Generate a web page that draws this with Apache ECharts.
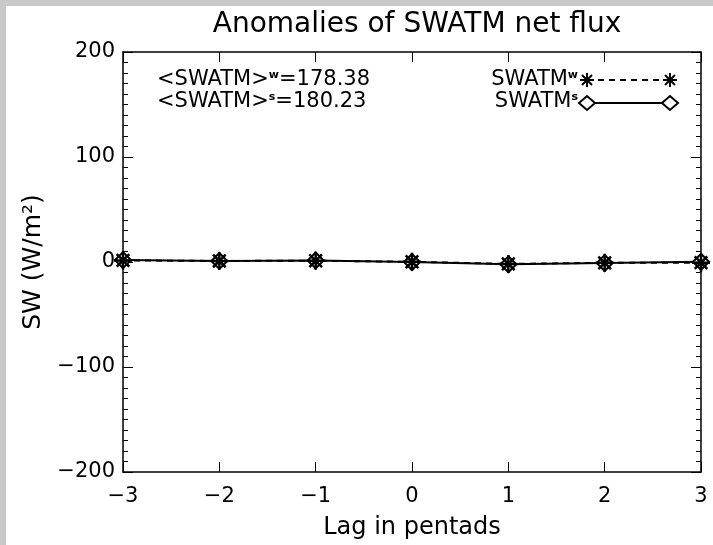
<!DOCTYPE html>
<html lang="en" style="height: 100%">
    <head>
        <meta charset="utf-8" />
    </head>
    <body style="height: 100%; margin: 0">
        <div id="container" style="width: 713px; height: 545px"></div>

        <script
            type="text/javascript"
            src="https://fastly.jsdelivr.net/npm/echarts@6.0.0/dist/echarts.min.js"
        ></script>

        <script type="text/javascript">
            // lag (pentads) and net flux anomalies, winter/summer composites
            var lags = [-3, -2, -1, 0, 1, 2, 3];
            var swatmW = [1.5, 1.0, 1.2, 0.2, -1.8, -0.8, -0.6];
            var swatmS = [1.8, 1.0, 1.5, 0.0, -2.2, -1.0, 0.2];
            var yTicks = [-200, -100, 0, 100, 200];
            var meanW = '178.38';
            var meanS = '180.23';

            var FONT = 'DejaVu Sans';
            var dom = document.getElementById('container');
            var myChart = echarts.init(dom, null, { renderer: 'canvas' });

            function minus(v) {
                return v < 0 ? '\u2212' + Math.abs(v) : String(v);
            }

            function pairs(ys) {
                return lags.map(function (x, i) {
                    return [x, ys[i]];
                });
            }

            // asterisk marker: a plus and a cross
            var starPath =
                'path://M10 0L10 20M0 10L20 10M3 3L17 17M3 17L17 3';
            var markStyle = { color: 'transparent', borderColor: '#000', borderWidth: 2.5 };

            // legend pieces drawn by hand: text, two end markers and a line
            function starAt(cx, cy) {
                var r = 7, d = 5;
                return [
                    [0, -r, 0, r], [-r, 0, r, 0], [-d, -d, d, d], [-d, d, d, -d]
                ].map(function (s) {
                    return {
                        type: 'line',
                        shape: { x1: cx + s[0], y1: cy + s[1], x2: cx + s[2], y2: cy + s[3] },
                        style: { stroke: '#000', lineWidth: 2 }
                    };
                });
            }
            function diamondAt(cx, cy) {
                return {
                    type: 'polygon',
                    shape: { points: [[cx - 8, cy], [cx, cy - 7], [cx + 8, cy], [cx, cy + 7]] },
                    style: { fill: '#fff', stroke: '#000', lineWidth: 2 }
                };
            }

            var txt = {
                fill: '#000',
                font: '21px "' + FONT + '"',
                rich: { sup: { fontSize: 11, fontWeight: 'bold', fontFamily: FONT, verticalAlign: 'top' } }
            };

            var graphics = [
                {
                    type: 'rect',
                    z: -10,
                    shape: { x: 6, y: 6, width: 707, height: 539 },
                    style: { fill: '#fff' }
                },
                {
                    type: 'text', x: 157, y: 80,
                    style: Object.assign({ text: '<SWATM>{sup|w}=' + meanW, textVerticalAlign: 'middle' }, txt)
                },
                {
                    type: 'text', x: 157, y: 102,
                    style: Object.assign({ text: '<SWATM>{sup|s}=' + meanS, textVerticalAlign: 'middle' }, txt)
                },
                {
                    type: 'text', x: 578, y: 80,
                    style: Object.assign({ text: 'SWATM{sup|w}', textAlign: 'right', textVerticalAlign: 'middle' }, txt)
                },
                {
                    type: 'text', x: 578, y: 102,
                    style: Object.assign({ text: 'SWATM{sup|s}', textAlign: 'right', textVerticalAlign: 'middle' }, txt)
                },
                {
                    type: 'line',
                    shape: { x1: 587, y1: 80, x2: 670, y2: 80 },
                    style: { stroke: '#000', lineWidth: 2, lineDash: [6, 5] }
                },
                {
                    type: 'line',
                    shape: { x1: 587, y1: 103, x2: 670, y2: 103 },
                    style: { stroke: '#000', lineWidth: 2 }
                },
                diamondAt(587, 103),
                diamondAt(670, 103)
            ].concat(starAt(587, 80), starAt(670, 80));

            var tickLabel = { fontFamily: FONT, fontSize: 21, color: '#000' };
            var lineSt = { onZero: false, lineStyle: { color: '#000', width: 1.5 } };
            var majorTick = { inside: true, length: 10, lineStyle: { color: '#000' } };
            var minorTick = { show: true, splitNumber: 10, length: 5, lineStyle: { color: '#000' } };

            var option = {
                backgroundColor: '#c8c8c8',
                animation: false,
                title: {
                    text: 'Anomalies of SWATM net flux',
                    left: 412,
                    top: 6,
                    textAlign: 'center',
                    textStyle: { fontFamily: FONT, fontSize: 28, fontWeight: 'normal', color: '#000' }
                },
                grid: { left: 123, right: 12, top: 52, bottom: 73 },
                xAxis: [
                    {
                        type: 'value',
                        min: -3,
                        max: 3,
                        interval: 1,
                        name: 'Lag in pentads',
                        nameLocation: 'middle',
                        nameGap: 44,
                        nameTextStyle: { fontFamily: FONT, fontSize: 24, color: '#000' },
                        axisLine: lineSt,
                        axisTick: majorTick,
                        axisLabel: { margin: 14, formatter: minus, textStyle: tickLabel },
                        splitLine: { show: false }
                    },
                    {
                        type: 'value',
                        position: 'top',
                        min: -3,
                        max: 3,
                        interval: 1,
                        axisLine: lineSt,
                        axisTick: majorTick,
                        axisLabel: { show: false },
                        splitLine: { show: false }
                    }
                ],
                yAxis: [
                    {
                        type: 'value',
                        min: yTicks[0],
                        max: yTicks[yTicks.length - 1],
                        interval: 100,
                        name: 'SW (W/m\u00b2)',
                        nameLocation: 'middle',
                        nameGap: 76,
                        nameTextStyle: { fontFamily: FONT, fontSize: 25, color: '#000' },
                        axisLine: lineSt,
                        axisTick: majorTick,
                        minorTick: minorTick,
                        axisLabel: { margin: 8, formatter: minus, textStyle: tickLabel },
                        splitLine: { show: false }
                    },
                    {
                        type: 'value',
                        position: 'right',
                        min: yTicks[0],
                        max: yTicks[yTicks.length - 1],
                        interval: 100,
                        axisLine: lineSt,
                        axisTick: majorTick,
                        minorTick: minorTick,
                        axisLabel: { show: false },
                        splitLine: { show: false }
                    }
                ],
                series: [
                    {
                        name: 'SWATM w',
                        type: 'line',
                        data: pairs(swatmW),
                        symbol: starPath,
                        symbolSize: 18,
                        itemStyle: markStyle,
                        lineStyle: { color: '#000', width: 2, type: [6, 5] },
                        z: 3
                    },
                    {
                        name: 'SWATM s',
                        type: 'line',
                        data: pairs(swatmS),
                        symbol: 'diamond',
                        symbolSize: 16,
                        itemStyle: { color: '#fff', borderColor: '#000', borderWidth: 2 },
                        lineStyle: { color: '#000', width: 2 },
                        z: 2
                    }
                ],
                graphic: graphics
            };

            myChart.setOption(option);
            window.addEventListener('resize', myChart.resize);
        </script>
    </body>
</html>
